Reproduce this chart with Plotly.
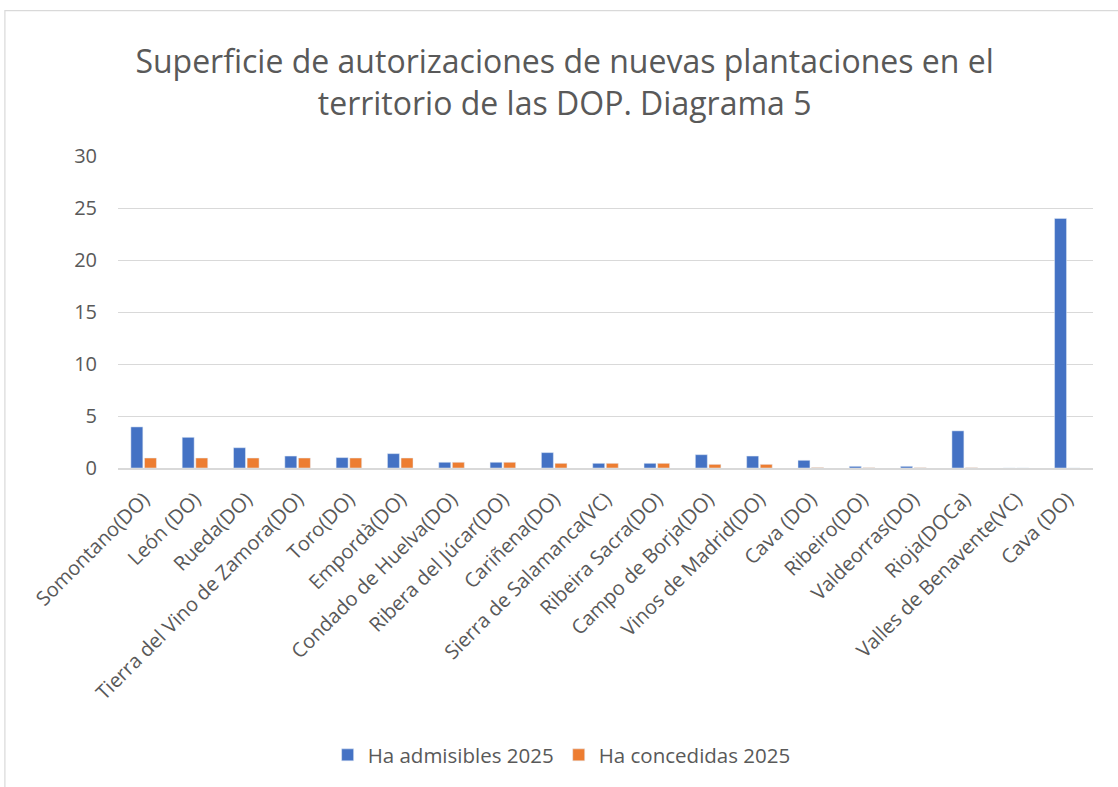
import plotly.graph_objects as go

categories = ["Somontano(DO)", "León (DO)", "Rueda(DO)", "Tierra del Vino de Zamora(DO)",
              "Toro(DO)", "Empordà(DO)", "Condado de Huelva(DO)", "Ribera del Júcar(DO)",
              "Cariñena(DO)", "Sierra de Salamanca(VC)", "Ribeira Sacra(DO)", "Campo de Borja(DO)",
              "Vinos de Madrid(DO)", "Cava (DO)", "Ribeiro(DO)", "Valdeorras(DO)", "Rioja(DOCa)",
              "Valles de Benavente(VC)", "Cava (DO)"]
admisibles = [3.95, 2.95, 1.95, 1.15, 1.0, 1.38, 0.55, 0.55, 1.48, 0.45, 0.45, 1.28,
              1.15, 0.74, 0.16, 0.16, 3.57, 0.0, 24.0]
concedidas = [0.96, 0.96, 0.96, 0.96, 0.96, 0.96, 0.55, 0.55, 0.45, 0.45, 0.45, 0.35,
              0.35, 0.05, 0.03, 0.03, 0.03, 0.0, 0.0]
y_ticks = [0, 5, 10, 15, 20, 25, 30]

positions = list(range(len(categories)))

fig = go.Figure()
fig.add_trace(go.Bar(x=positions, y=admisibles, name="Ha admisibles 2025",
                     marker=dict(color="#4472C4")))
fig.add_trace(go.Bar(x=positions, y=concedidas, name="Ha concedidas 2025",
                     marker=dict(color="#ED7D31")))

font_family = "Open Sans"
fig.update_layout(
    width=1118, height=787,
    margin=dict(l=118, r=25, t=156, b=319, autoexpand=False),
    paper_bgcolor="white", plot_bgcolor="white",
    barmode="group", bargap=0.47, bargroupgap=0.12,
    font=dict(family=font_family, color="#595959", size=20),
    title=dict(text="Superficie de autorizaciones de nuevas plantaciones en el<br>territorio de las DOP. Diagrama 5",
               x=0.505, xanchor="center", y=0.907, yanchor="middle",
               font=dict(family=font_family, size=32, color="#595959")),
    showlegend=True,
    legend=dict(orientation="h", x=0.455, xanchor="center", y=-0.92, yanchor="middle",
                font=dict(size=20.5, color="#595959"), itemwidth=30, traceorder="normal"),
    xaxis=dict(tickmode="array", tickvals=positions, ticktext=categories,
               tickangle=-45, range=[-0.5, len(categories) - 0.5], automargin=False,
               showgrid=False, showline=True, linecolor="#D9D9D9", linewidth=1.5,
               ticks="", tickfont=dict(size=20, color="#595959"), ticklabelstandoff=10),
    yaxis=dict(range=[0, 30], tickvals=y_ticks, showgrid=True, gridcolor="#D9D9D9",
               gridwidth=1.2, zeroline=False, showline=False, ticks="", automargin=False,
               tickfont=dict(size=20, color="#595959"), ticklabelstandoff=20),
    shapes=[dict(type="rect", xref="paper", yref="paper",
                 x0=-0.116, x1=1.2, y0=-2.0, y1=1.466,
                 line=dict(color="#D9D9D9", width=1.2), layer="below")],
)

fig.write_html("out.html", config={"displayModeBar": False},
               post_script="document.body.style.margin='0';document.body.style.overflow='hidden';")
